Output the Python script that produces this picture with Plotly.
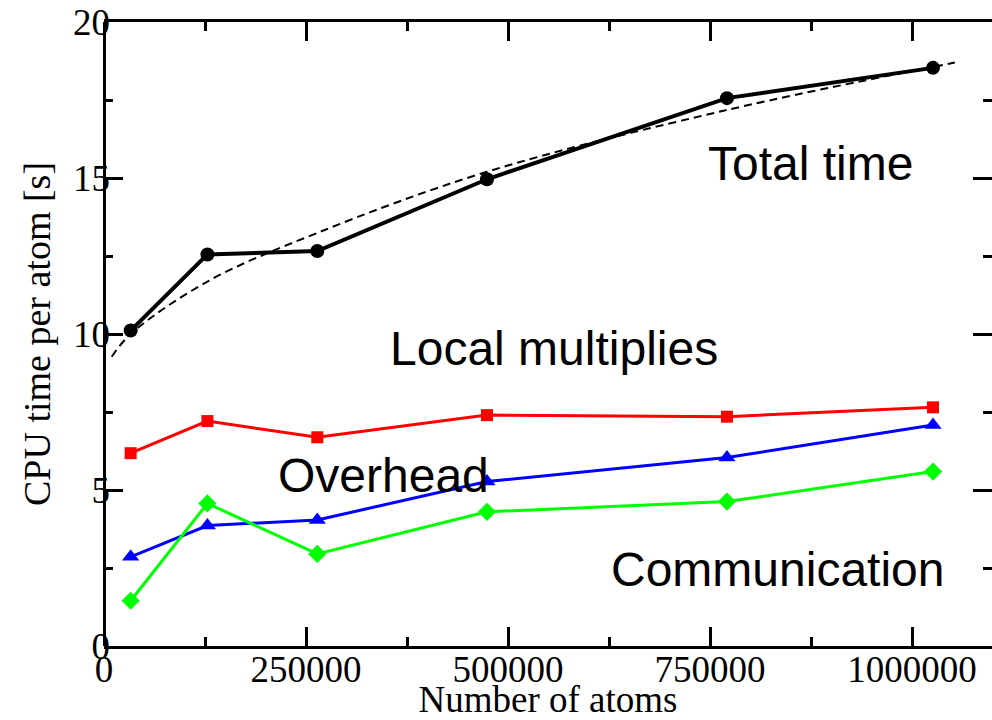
import plotly.graph_objects as go

# Number of atoms in each benchmark system
atoms = [33000, 128000, 264000, 474000, 771000, 1026000]

# CPU time per atom [s] for each component
total_time = [10.11, 12.55, 12.66, 14.96, 17.56, 18.53]
local_mult = [6.18, 7.21, 6.69, 7.40, 7.35, 7.65]
overhead = [2.86, 3.86, 4.04, 5.27, 6.04, 7.08]
communication = [1.45, 4.57, 2.95, 4.30, 4.63, 5.59]

# Fitted trend for the total time
fit_atoms = [9500, 33000, 128000, 264000, 474000, 771000, 1053000]
fit_time = [9.27, 10.0, 11.68, 13.24, 15.2, 17.18, 18.7]

# Text labels placed next to the curves: (text, x, y)
labels = [
    ("Total time", 745000, 15.45),
    ("Local multiplies", 352000, 9.55),
    ("Overhead", 213000, 5.48),
    ("Communication", 625000, 2.45),
]

fig = go.Figure()

fig.add_trace(go.Scatter(
    x=fit_atoms, y=fit_time, mode="lines", line_shape="spline",
    line=dict(color="black", width=2, dash="8px,5px"), hoverinfo="skip"))

fig.add_trace(go.Scatter(
    x=atoms, y=total_time, mode="lines+markers", name="Total time",
    line=dict(color="black", width=4),
    marker=dict(symbol="circle", size=14, color="black")))

fig.add_trace(go.Scatter(
    x=atoms, y=local_mult, mode="lines+markers", name="Local multiplies",
    line=dict(color="#ff0000", width=3),
    marker=dict(symbol="square", size=12, color="#ff0000")))

fig.add_trace(go.Scatter(
    x=atoms, y=overhead, mode="lines+markers", name="Overhead",
    line=dict(color="#0000ff", width=3),
    marker=dict(symbol="triangle-up", size=15, color="#0000ff")))

fig.add_trace(go.Scatter(
    x=atoms, y=communication, mode="lines+markers", name="Communication",
    line=dict(color="#00ff00", width=3),
    marker=dict(symbol="diamond", size=14, color="#00ff00")))

for text, lx, ly in labels:
    fig.add_annotation(
        x=lx, y=ly, xref="x", yref="y", text=text, showarrow=False,
        xanchor="left", yanchor="middle",
        font=dict(family="Liberation Sans, Arial, sans-serif", size=48, color="black"))

tick_font = dict(family="Liberation Serif, Times New Roman, serif", size=37, color="black")

fig.update_layout(
    width=992, height=720,
    margin=dict(l=104, r=0, t=22, b=74),
    paper_bgcolor="white", plot_bgcolor="white",
    showlegend=False,
    font=tick_font,
    xaxis=dict(
        range=[0, 1099000], tickvals=[0, 250000, 500000, 750000, 1000000],
        ticktext=["0", "250000", "500000", "750000", "1000000"],
        ticks="inside", ticklen=19, tickwidth=3, tickcolor="black",
        minor=dict(dtick=125000, tick0=0, ticks="inside", ticklen=9, tickwidth=3, tickcolor="black"),
        showline=True, linecolor="black", linewidth=3, mirror="allticks",
        showgrid=False, zeroline=True, zerolinecolor="black", zerolinewidth=3,
        tickfont=tick_font, ticklabelstandoff=-11,
        title=dict(text="Number of atoms", font=tick_font, standoff=4),
    ),
    yaxis=dict(
        range=[0, 20], tickvals=[0, 5, 10, 15, 20],
        ticks="inside", ticklen=19, tickwidth=3, tickcolor="black",
        minor=dict(dtick=2.5, tick0=0, ticks="inside", ticklen=9, tickwidth=3, tickcolor="black"),
        showline=False, mirror="ticks",
        showgrid=False, zeroline=True, zerolinecolor="black", zerolinewidth=3,
        tickfont=tick_font, ticklabelstandoff=-7,
        title=dict(text="CPU time per atom [s]", font=dict(family="Liberation Serif, Times New Roman, serif", size=38, color="black"), standoff=10),
    ),
)

fig.write_html("out.html")
